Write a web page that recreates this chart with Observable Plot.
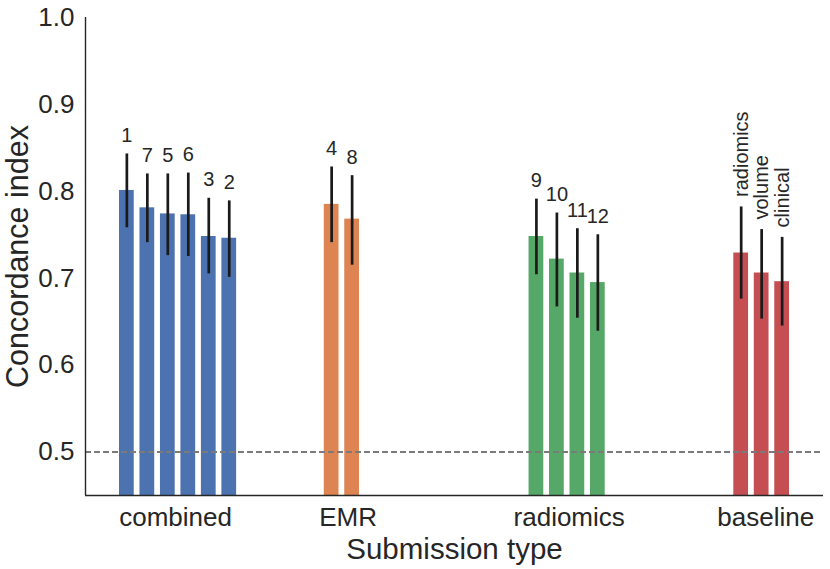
<!DOCTYPE html>
<html>
<head>
<meta charset="utf-8">
<script src="https://cdn.jsdelivr.net/npm/d3@7"></script>
<script src="https://cdn.jsdelivr.net/npm/@observablehq/plot@0.6"></script>
<style>
  html, body { margin: 0; padding: 0; background: #fff; }
  #chart { width: 830px; height: 569px; }
  svg { font-family: "Liberation Sans", Arial, sans-serif; }
</style>
</head>
<body>
<div id="chart"></div>
<script>
// ---- data ----
const types = ["combined", "EMR", "radiomics", "baseline"];
const typeTickPos = [2.38, 10.8, 21.6, 31.2];
const typeColors = ["#4c72b0", "#dd8452", "#55a868", "#c44e52"];
const submissionLabels = ["1", "7", "5", "6", "3", "2", "4", "8", "9", "10", "11", "12", "radiomics", "volume", "clinical"];
const submissionTypes = ["combined", "combined", "combined", "combined", "combined", "combined", "EMR", "EMR", "radiomics", "radiomics", "radiomics", "radiomics", "baseline", "baseline", "baseline"];
const cIndex = [0.801, 0.781, 0.774, 0.773, 0.748, 0.746, 0.785, 0.768, 0.748, 0.722, 0.706, 0.695, 0.729, 0.706, 0.696];
const ciLow  = [0.758, 0.741, 0.726, 0.725, 0.705, 0.701, 0.741, 0.715, 0.704, 0.667, 0.654, 0.639, 0.676, 0.653, 0.645];
const ciHigh = [0.843, 0.820, 0.820, 0.821, 0.792, 0.789, 0.828, 0.818, 0.791, 0.775, 0.757, 0.750, 0.782, 0.756, 0.747];
const yTicks = [0.5, 0.6, 0.7, 0.8, 0.9, 1.0];
const chanceLevel = 0.5;
const yMin = 0.45, yMax = 1.0;

// ---- build table: slot = group index * 10 + rank within group ----
const rankCounter = {};
const rows = submissionLabels.map((label, i) => {
  const type = submissionTypes[i];
  const rank = (rankCounter[type] = (rankCounter[type] ?? -1) + 1);
  return { label, type, value: cIndex[i], lo: ciLow[i], hi: ciHigh[i], slot: types.indexOf(type) * 10 + rank };
});
const typeTicks = types.map((t, i) => ({ type: t, x: typeTickPos[i] }));
const numeric = rows.filter(r => r.type !== "baseline");
const baseline = rows.filter(r => r.type === "baseline");

const ink = "#262626";
const chart = Plot.plot({
  width: 830,
  height: 569,
  marginLeft: 85,
  marginRight: 7,
  marginTop: 17,
  marginBottom: 74,
  style: { fontFamily: "'Liberation Sans', Arial, sans-serif", color: ink, background: "#fff" },
  x: { domain: [-2.02, 34.02], axis: null },
  y: { domain: [yMin, yMax], axis: null },
  color: { domain: types, range: typeColors },
  marks: [
    Plot.rect(rows, { x1: d => d.slot - 0.36, x2: d => d.slot + 0.36, y1: yMin, y2: "value", fill: "type" }),
    Plot.ruleY([chanceLevel], { stroke: "#7a7a7a", strokeWidth: 2, strokeDasharray: "6,3" }),
    Plot.ruleX(rows, { x: "slot", y1: "lo", y2: "hi", stroke: "#1a1a1a", strokeWidth: 2.7 }),
    Plot.text(numeric, { x: "slot", y: "hi", text: "label", lineAnchor: "bottom", dy: -12, fontSize: 20, fill: ink }),
    Plot.text(baseline, { x: "slot", y: "hi", text: "label", rotate: -90, textAnchor: "start", lineAnchor: "middle", dy: -10, fontSize: 20, fill: ink }),
    // spines
    Plot.ruleX([-2.02], { stroke: ink, strokeWidth: 1.4 }),
    Plot.ruleY([yMin], { stroke: ink, strokeWidth: 1.4 }),
    // y tick labels
    Plot.axisY({ ticks: yTicks, tickSize: 0, tickPadding: 11, tickFormat: d3.format(".1f"), fontSize: 26, label: null, fill: ink }),
    // x tick labels
    Plot.text(typeTicks, { x: "x", text: "type", frameAnchor: "bottom", lineAnchor: "bottom", dy: 30, fontSize: 26, fill: ink }),
    // axis titles
    Plot.text(["Submission type"], { frameAnchor: "bottom", lineAnchor: "bottom", dy: 63, fontSize: 29.5, fill: ink }),
    Plot.text(["Concordance index"], { frameAnchor: "left", rotate: -90, lineAnchor: "bottom", textAnchor: "middle", dx: -58, dy: 0, fontSize: 30.5, fill: ink })
  ]
});
document.getElementById("chart").appendChild(chart);
</script>
</body>
</html>
